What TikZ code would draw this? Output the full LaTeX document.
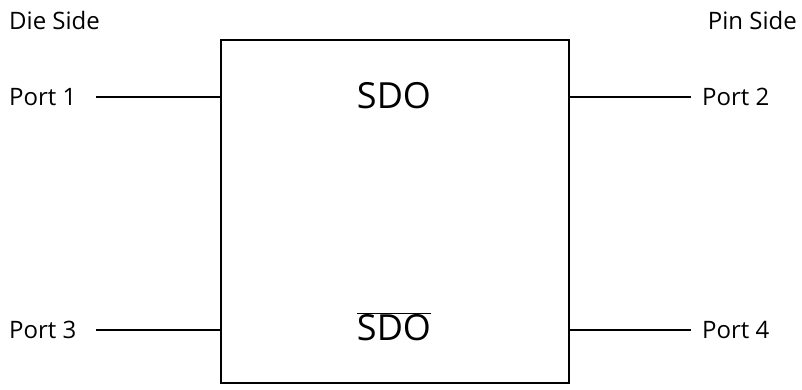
\documentclass[tikz,border=0pt]{standalone}
\usepackage{fontspec}
\setmainfont{Open Sans}
\begin{document}
\begin{tikzpicture}[x=1pt,y=-1pt,
  wire/.style={line width=1.4pt},
  lbl/.style={inner sep=0pt, font=\fontsize{24}{28}\selectfont},
  sig/.style={inner sep=0pt, font=\fontsize{36}{42}\selectfont}]
\useasboundingbox (0,0) rectangle (802,390);
% block
\draw[wire] (221,40) rectangle (569,383);
\coordinate (inA) at (221,97);
\coordinate (inB) at (221,330);
\coordinate (outA) at (569,97);
\coordinate (outB) at (569,330);
% free ends of the port leads
\coordinate (l1) at (96,97);
\coordinate (l3) at (96,330);
\coordinate (l2) at (691,97);
\coordinate (l4) at (691,330);
% side captions
\node[lbl, anchor=west] (die) at (9,21) {Die Side};
\node[lbl, anchor=east] (pin) at (797,21) {Pin Side};
% ports
\node[lbl, anchor=west] (p1) at (9,97) {Port 1};
\node[lbl, anchor=west] (p3) at (9,330) {Port 3};
\node[lbl, anchor=west] (p2) at (702,97) {Port 2};
\node[lbl, anchor=west] (p4) at (702,330) {Port 4};
\draw[wire] (l1) -- (inA);
\draw[wire] (l3) -- (inB);
\draw[wire] (outA) -- (l2);
\draw[wire] (outB) -- (l4);
% signal names
\node[sig] (sdo) at (394,96) {SDO};
\node[sig] (sdob) at (394,327) {$\overline{\hbox{SDO}}$};
\end{tikzpicture}
\end{document}
